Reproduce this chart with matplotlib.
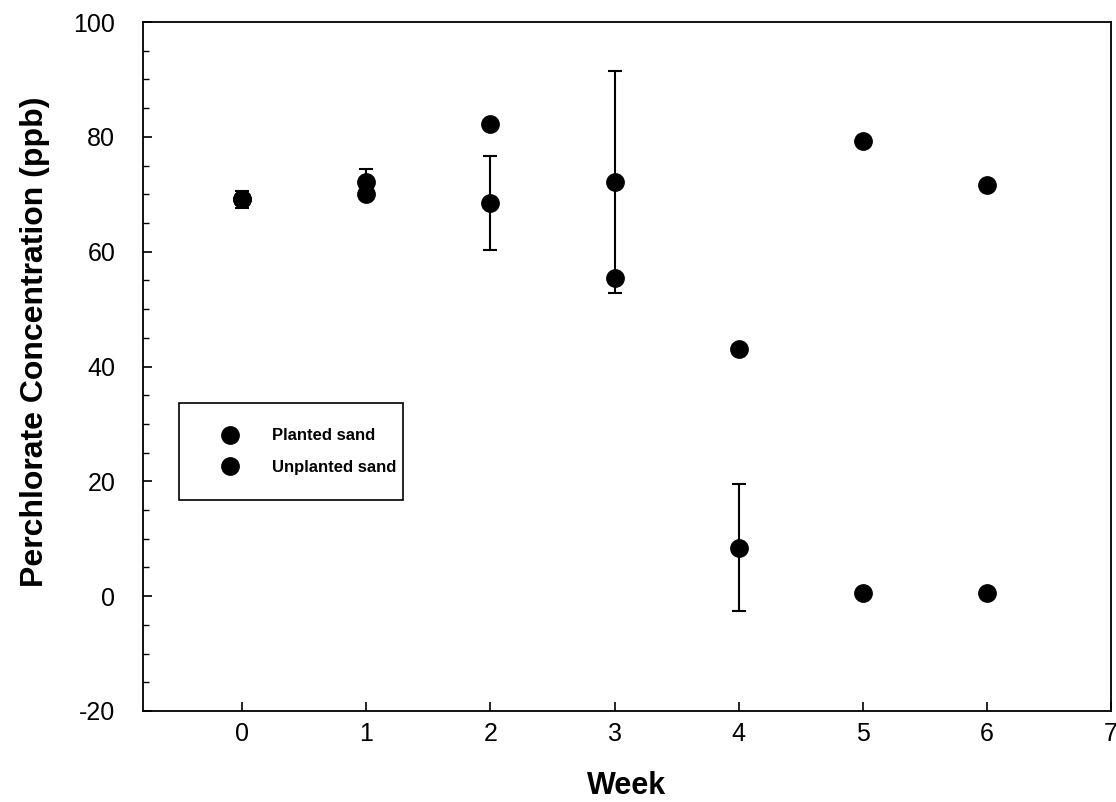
import matplotlib.pyplot as plt
from matplotlib.lines import Line2D
from matplotlib.patches import Rectangle
from matplotlib.ticker import MultipleLocator

plt.rcParams['font.family'] = ['Liberation Sans', 'DejaVu Sans']
plt.rcParams['axes.unicode_minus'] = False

weeks = [0, 1, 2, 3, 4, 5, 6]
planted = [69.1, 72.1, 68.5, 72.1, 8.45, 0.6, 0.6]
planted_err = [1.5, 2.25, 8.2, 19.3, 11.0, 0, 0]
unplanted = [69.1, 70.0, 82.2, 55.5, 43.0, 79.3, 71.6]
labels = ['Planted sand', 'Unplanted sand']


def main():
    fig = plt.figure(figsize=(11.16, 8.02), dpi=100)
    ax = fig.add_axes([143 / 1116, 1 - 711 / 802, 968 / 1116, 689 / 802])

    # error bars only where there is a spread
    xs = [w for w, e in zip(weeks, planted_err) if e > 0]
    ys = [v for v, e in zip(planted, planted_err) if e > 0]
    es = [e for e in planted_err if e > 0]
    ax.errorbar(xs, ys, yerr=es, fmt='none', ecolor='black',
                elinewidth=1.5, capsize=5, capthick=1.5, zorder=2)

    ax.plot(weeks, planted, 'o', color='black', ms=12.5, zorder=3)
    ax.plot(weeks, unplanted, 'o', color='black', ms=12.5, zorder=3)

    ax.set_xlim(-0.8, 7)
    ax.set_ylim(-20, 100)
    ax.set_xticks(range(0, 8))
    ax.set_yticks(range(-20, 101, 20))
    ax.yaxis.set_minor_locator(MultipleLocator(5))
    ax.tick_params(which='major', direction='in', length=6.5, width=1.2, labelsize=18)
    ax.tick_params(axis='y', which='major', pad=20)
    ax.tick_params(axis='x', which='major', pad=8)
    ax.tick_params(which='minor', direction='in', length=4, width=1.0)
    ax.tick_params(axis='x', which='minor', bottom=False)
    for s in ax.spines.values():
        s.set_linewidth(1.3)

    ax.set_xlabel('Week', fontsize=22, fontweight='bold')
    ax.xaxis.set_label_coords(0.5, (711 - 771) / 689)
    ax.set_ylabel('Perchlorate Concentration (ppb)', fontsize=23, fontweight='bold')
    ax.yaxis.set_label_coords((50 - 143) / 968, (711 - 342) / 689)

    # legend box drawn separately, SigmaPlot style
    x0, x1 = (179 - 143) / 968, (403 - 143) / 968
    y0, y1 = (711 - 500) / 689, (711 - 403) / 689
    ax.add_patch(Rectangle((x0, y0), x1 - x0, y1 - y0, transform=ax.transAxes,
                           fill=True, facecolor='white', edgecolor='black',
                           lw=1.2, zorder=4))

    handles = [Line2D([], [], ls='none', marker='o', color='black', ms=12.5),
               Line2D([], [], ls='none', marker='o', color='black', ms=12.5)]
    leg = ax.legend(handles, labels, loc='center left',
                    bbox_to_anchor=((201 - 143) / 968, (y0 + y1) / 2),
                    frameon=False, borderpad=0, borderaxespad=0,
                    labelspacing=0.97, handlelength=3.47, handletextpad=0.78,
                    prop={'size': 12, 'weight': 'bold'})
    leg.set_zorder(5)

    fig.savefig('out.png', dpi=100)


if __name__ == '__main__':
    main()
